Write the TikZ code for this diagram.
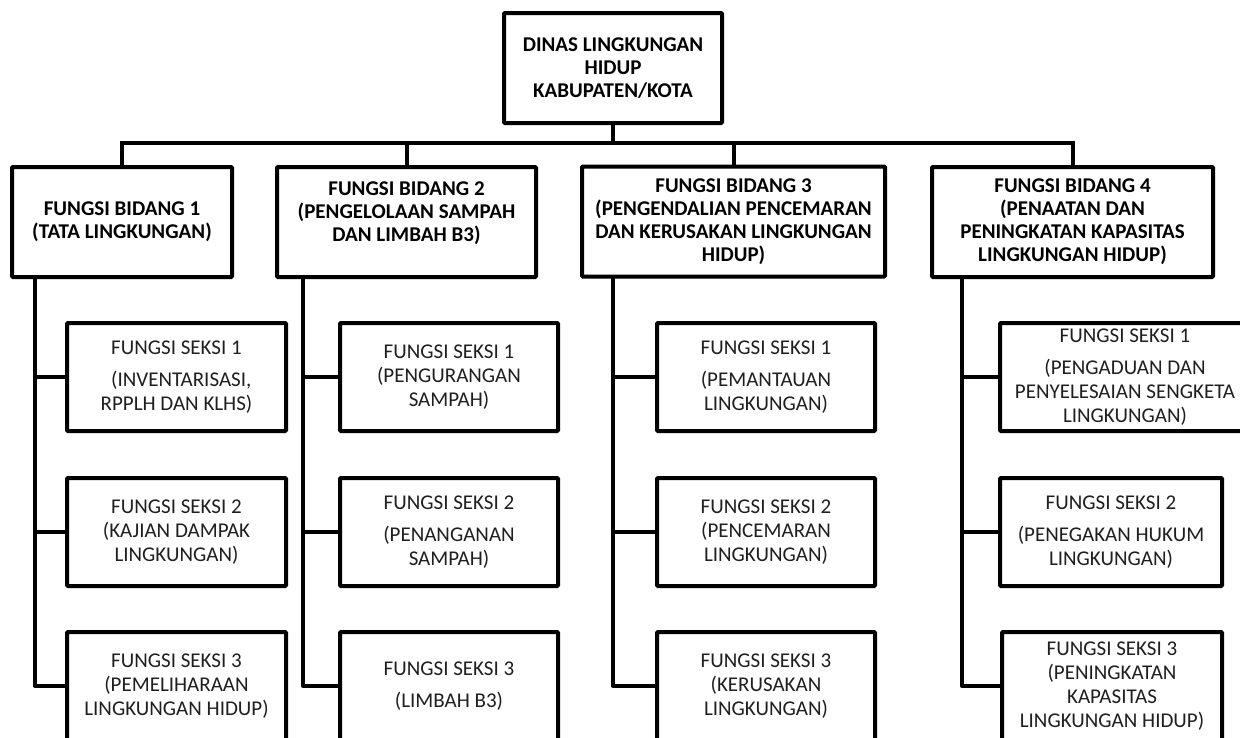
\documentclass[tikz,border=0pt]{standalone}
\usepackage{fontspec}
\setmainfont{Carlito}
\begin{document}
\begin{tikzpicture}[x=1pt,y=-1pt,
  box/.style={draw=black,line width=4pt,rectangle,rounded corners=1pt,inner sep=0pt,align=center,
    font=\fontsize{21}{24}\selectfont,text=black!88},
  hbox/.style={box,font=\bfseries\fontsize{21}{23}\selectfont,minimum height=110pt,text=black},
  sbox/.style={box,minimum height=108pt},
  conn/.style={draw=black,line width=4pt,line cap=rect,line join=round}]
\useasboundingbox (0,0) rectangle (1240,737);
\clip (0,0) rectangle (1240,737);
\fill[white] (0,0) rectangle (1240,737);
% top
\node[hbox,minimum width=218pt] (top) at (613,68) {DINAS LINGKUNGAN\\HIDUP\\KABUPATEN/KOTA};
% bidang
\node[hbox,minimum width=220pt] (b1) at (122,222) {FUNGSI BIDANG 1\\(TATA LINGKUNGAN)};
\node[hbox,minimum width=259pt] (b2) at (406.5,222) {FUNGSI BIDANG 2\\(PENGELOLAAN SAMPAH\\DAN LIMBAH B3)\\[-2pt]};
\node[hbox,minimum width=303pt] (b3) at (733.5,221.5) {FUNGSI BIDANG 3\\(PENGENDALIAN PENCEMARAN\\DAN KERUSAKAN LINGKUNGAN\\HIDUP)};
\node[hbox,minimum width=281pt] (b4) at (1072.5,222) {FUNGSI BIDANG 4\\(PENAATAN DAN\\PENINGKATAN KAPASITAS\\LINGKUNGAN HIDUP)};
% seksi col 1
\node[sbox,minimum width=219pt] (s11) at (176.5,377) {FUNGSI SEKSI 1\\[8pt]\ \ (INVENTARISASI,\\RPPLH DAN KLHS)};
\node[sbox,minimum width=219pt] (s12) at (176.5,532) {FUNGSI SEKSI 2\\(KAJIAN DAMPAK\\LINGKUNGAN)};
\node[sbox,minimum width=219pt] (s13) at (176.5,686) {FUNGSI SEKSI 3\\(PEMELIHARAAN\\LINGKUNGAN HIDUP)};
% seksi col 2
\node[sbox,minimum width=218pt] (s21) at (449,377) {FUNGSI SEKSI 1\\(PENGURANGAN\\SAMPAH)};
\node[sbox,minimum width=218pt] (s22) at (449,532) {FUNGSI SEKSI 2\\[8pt](PENANGANAN\\SAMPAH)};
\node[sbox,minimum width=218pt] (s23) at (449,686) {FUNGSI SEKSI 3\\[8pt](LIMBAH B3)};
% seksi col 3
\node[sbox,minimum width=218pt] (s31) at (766,377) {FUNGSI SEKSI 1\\[8pt](PEMANTAUAN\\LINGKUNGAN)};
\node[sbox,minimum width=218pt] (s32) at (766,532) {FUNGSI SEKSI 2\\(PENCEMARAN\\LINGKUNGAN)};
\node[sbox,minimum width=218pt] (s33) at (766,686) {FUNGSI SEKSI 3\\(KERUSAKAN\\LINGKUNGAN)};
% seksi col 4
\node[sbox,minimum width=250pt] (s41) at (1125,377) {FUNGSI SEKSI 1\\[8pt](PENGADUAN DAN\\PENYELESAIAN SENGKETA\\LINGKUNGAN)};
\node[sbox,minimum width=222pt] (s42) at (1111,532) {FUNGSI SEKSI 2\\[8pt](PENEGAKAN HUKUM\\LINGKUNGAN)};
\node[sbox,minimum width=220pt] (s43) at (1112,686) {FUNGSI SEKSI 3\\(PENINGKATAN\\KAPASITAS\\LINGKUNGAN HIDUP)};
% bus
\coordinate (bus) at (0,143);
\draw[conn] (top.south) -- (top.south |- bus);
\draw[conn] (b1.north |- bus) -- (b4.north |- bus);
\foreach \b in {b1,b2,b3,b4}{\draw[conn] (\b.north |- bus) -- (\b.north);}
% verticals
\coordinate (t1) at (35,0);
\coordinate (t2) at (303,0);
\coordinate (t3) at (613,0);
\coordinate (t4) at (962,0);
\foreach \c in {1,2,3,4}{
  \draw[conn] (b\c.south -| t\c) |- (s\c3.west);
  \draw[conn] (s\c1.west -| t\c) -- (s\c1.west);
  \draw[conn] (s\c2.west -| t\c) -- (s\c2.west);
}
\end{tikzpicture}
\end{document}
